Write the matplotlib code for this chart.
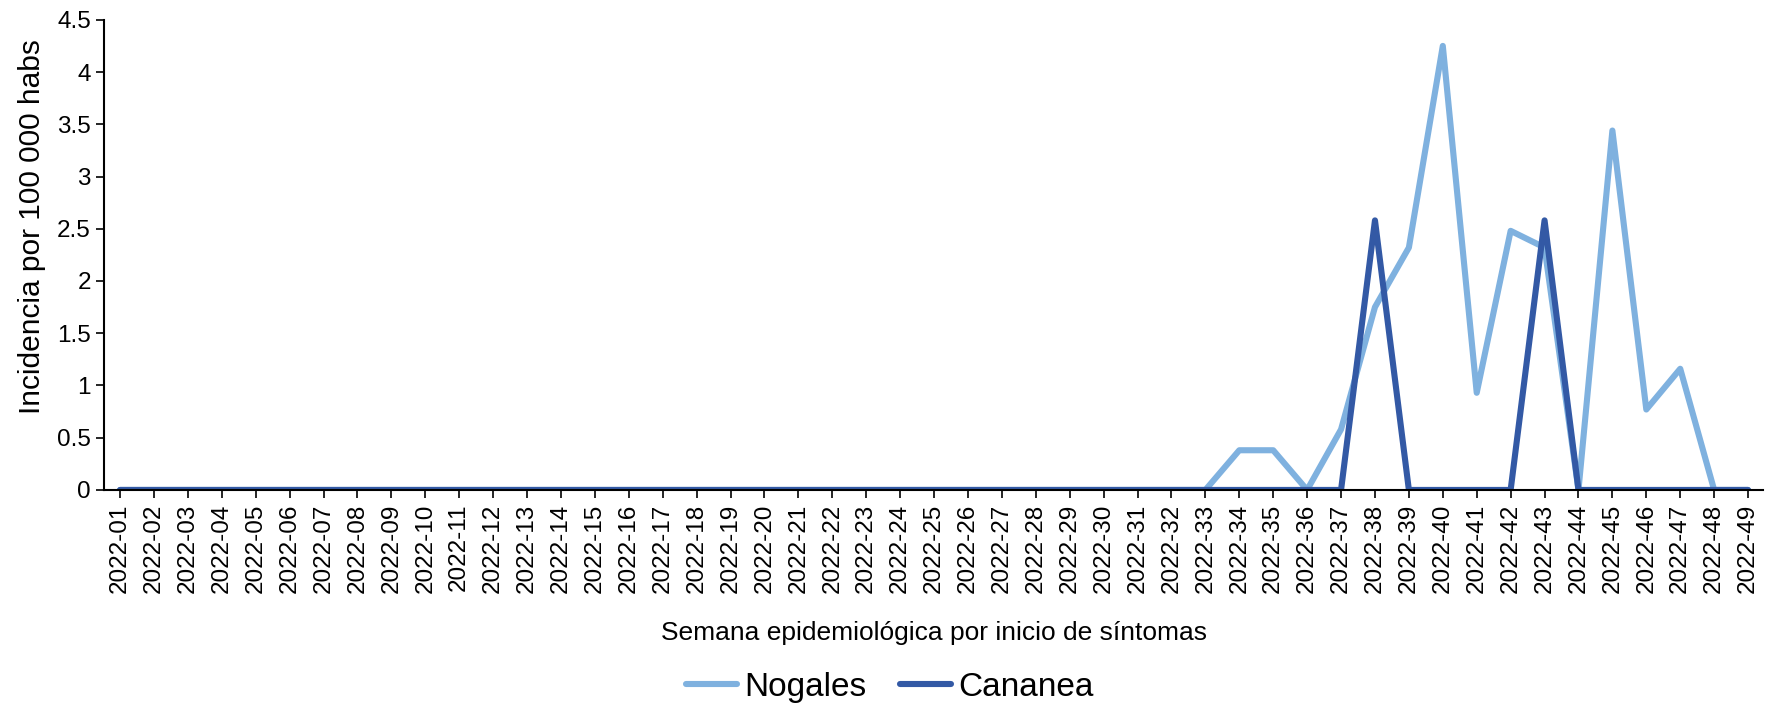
import matplotlib.pyplot as plt

plt.rcParams['font.family'] = ['Liberation Sans', 'DejaVu Sans']

# semanas epidemiologicas 2022-01 .. 2022-49
weeks = ["2022-%02d" % w for w in range(1, 50)]

# incidencia por 100 000 habs, semanas 33..49 (antes todo 0)
nogales_tail = [0, 0.38, 0.38, 0, 0.58, 1.75, 2.32, 4.25, 0.93, 2.48, 2.32,
                0, 3.44, 0.77, 1.16, 0, 0]
cananea_tail = [0, 0, 0, 0, 0, 2.58, 0, 0, 0, 0, 2.58,
                0, 0, 0, 0, 0, 0]

nogales = [0] * 32 + nogales_tail
cananea = [0] * 32 + cananea_tail

x = list(range(len(weeks)))

fig = plt.figure(figsize=(17.79, 7.07), dpi=100)
ax = fig.add_axes([0.0585, 0.307, 0.9325, 0.665])

ax.plot(x, nogales, color='#7FB1DF', lw=4.4, label='Nogales', solid_capstyle='round')
ax.plot(x, cananea, color='#3359A5', lw=4.4, label='Cananea', solid_capstyle='round')

ax.set_xlim(-0.47, len(weeks) - 1 + 0.44)
ax.set_ylim(0, 4.5)
ax.set_yticks([0, 0.5, 1, 1.5, 2, 2.5, 3, 3.5, 4, 4.5])
ax.set_yticklabels(['0', '0.5', '1', '1.5', '2', '2.5', '3', '3.5', '4', '4.5'])
ax.set_xticks(x)
ax.set_xticklabels(weeks, rotation=90)
ax.tick_params(axis='both', labelsize=17.5, length=6, width=1.2, direction='out')
ax.tick_params(axis='x', pad=4)

for side in ['top', 'right']:
    ax.spines[side].set_visible(False)
for side in ['left', 'bottom']:
    ax.spines[side].set_linewidth(1.5)

ax.set_ylabel('Incidencia por 100 000 habs', fontsize=21.5)
ax.yaxis.set_label_coords(-0.035, 0.56)
ax.set_xlabel('Semana epidemiológica por inicio de síntomas', fontsize=19, labelpad=20)

fig.legend(loc='lower center', bbox_to_anchor=(0.5, -0.037), ncol=2, frameon=False,
           fontsize=24, handlelength=1.55, handletextpad=0.2, columnspacing=1.0)

fig.savefig('out.png', dpi=100)
